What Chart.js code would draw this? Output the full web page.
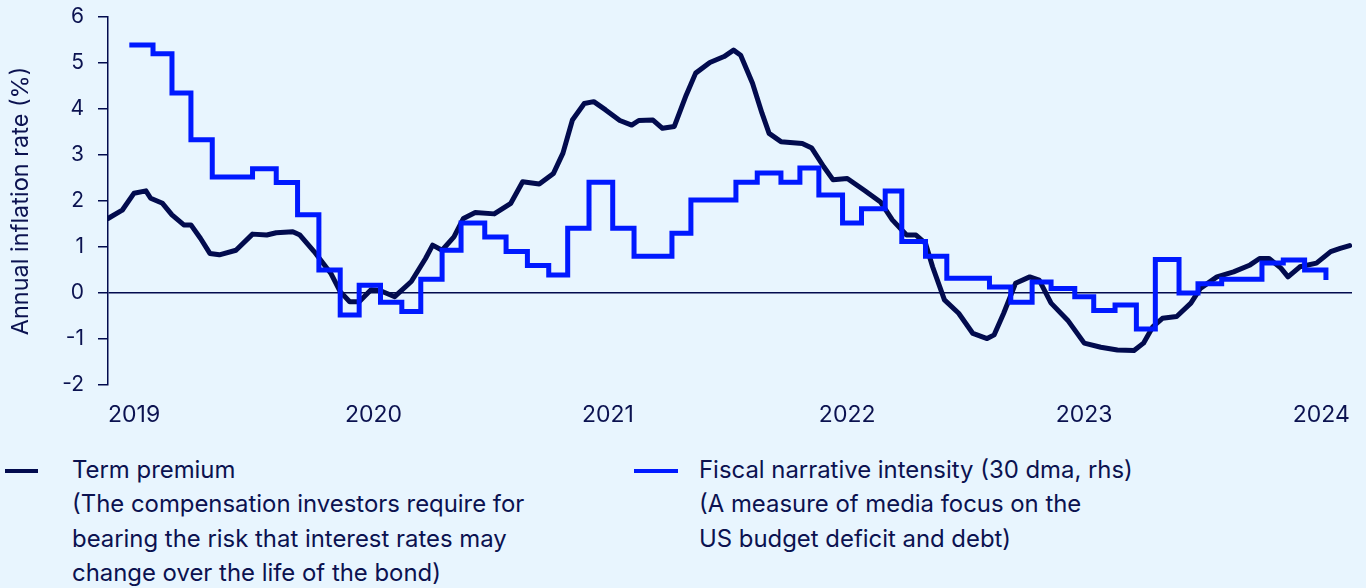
<!DOCTYPE html>
<html>
<head>
<meta charset="utf-8">
<script src="https://cdn.jsdelivr.net/npm/chart.js@4.4.1/dist/chart.umd.min.js"></script>
<style>
  html, body { margin: 0; padding: 0; background: #e8f5fe; }
  body { width: 1366px; height: 588px; position: relative; overflow: hidden; font-family: Inter, "Noto Sans", sans-serif; color: #0b1250; }
  #chart { position: absolute; left: 0; top: 0; }
  .legend { position: absolute; top: 453px; font-size: 23.9px; line-height: 34.4px; }
  .legend .swatch { position: absolute; top: 16px; height: 4px; }
  .legend .text { position: absolute; top: 0; white-space: nowrap; }
</style>
</head>
<body>
<canvas id="chart" width="1366" height="440"></canvas>

<div class="legend" style="left:0">
  <div class="swatch" style="left:5px; width:33px; background:#020b4e"></div>
  <div class="text" style="left:72px">Term premium<br>(The compensation investors require for<br>bearing the risk that interest rates may<br>change over the life of the bond)</div>
</div>
<div class="legend" style="left:0">
  <div class="swatch" style="left:634px; width:44px; background:#0019ff"></div>
  <div class="text" style="left:699px">Fiscal narrative intensity (30 dma, rhs)<br>(A measure of media focus on the<br>US budget deficit and debt)</div>
</div>

<script>
// x values are decimal years
var yearTicks = [2019, 2020, 2021, 2022, 2023, 2024];
var yTicks = [-2, -1, 0, 1, 2, 3, 4, 5, 6];

var termDates = [2019.00, 2019.06, 2019.11, 2019.16, 2019.18, 2019.23, 2019.27, 2019.32, 2019.35, 2019.39,
    2019.43, 2019.47, 2019.54, 2019.61, 2019.67, 2019.71, 2019.78, 2019.81, 2019.87, 2019.94,
    2019.98, 2020.02, 2020.06, 2020.11, 2020.15, 2020.21, 2020.28, 2020.34, 2020.37, 2020.41,
    2020.46, 2020.50, 2020.55, 2020.63, 2020.70, 2020.75, 2020.82, 2020.88, 2020.92, 2020.96,
    2021.01, 2021.05, 2021.10, 2021.16, 2021.21, 2021.24, 2021.30, 2021.34, 2021.39, 2021.44,
    2021.48, 2021.54, 2021.60, 2021.64, 2021.67, 2021.72, 2021.76, 2021.79, 2021.84, 2021.93,
    2021.97, 2022.02, 2022.06, 2022.12, 2022.19, 2022.26, 2022.31, 2022.37, 2022.41, 2022.45,
    2022.48, 2022.53, 2022.59, 2022.65, 2022.71, 2022.74, 2022.78, 2022.83, 2022.89, 2022.93,
    2022.98, 2023.05, 2023.12, 2023.19, 2023.26, 2023.33, 2023.37, 2023.41, 2023.45, 2023.51,
    2023.57, 2023.61, 2023.68, 2023.75, 2023.82, 2023.86, 2023.90, 2023.95, 2023.98, 2024.03,
    2024.10, 2024.16, 2024.20, 2024.24];
var termValues = [1.62, 1.80, 2.17, 2.22, 2.06, 1.95, 1.70, 1.48, 1.48, 1.19,
    0.86, 0.83, 0.93, 1.28, 1.26, 1.31, 1.33, 1.26, 0.90, 0.43,
    0.03, -0.19, -0.19, 0.07, 0.05, -0.08, 0.25, 0.75, 1.04, 0.93,
    1.22, 1.62, 1.75, 1.72, 1.95, 2.42, 2.37, 2.60, 3.04, 3.76,
    4.12, 4.16, 3.98, 3.75, 3.65, 3.75, 3.76, 3.58, 3.62, 4.30,
    4.78, 5.01, 5.14, 5.28, 5.17, 4.56, 3.91, 3.47, 3.29, 3.25,
    3.15, 2.75, 2.46, 2.49, 2.24, 1.98, 1.59, 1.26, 1.26, 1.08,
    0.57, -0.15, -0.44, -0.88, -0.99, -0.91, -0.44, 0.21, 0.35, 0.28,
    -0.22, -0.59, -1.09, -1.18, -1.24, -1.25, -1.09, -0.73, -0.55, -0.51,
    -0.22, 0.10, 0.35, 0.46, 0.61, 0.75, 0.75, 0.54, 0.35, 0.57,
    0.65, 0.90, 0.97, 1.03];

var fiscalDates = [2019.09, 2019.19, 2019.27, 2019.35, 2019.44, 2019.61, 2019.71, 2019.80, 2019.89, 2019.98,
    2020.06, 2020.15, 2020.24, 2020.32, 2020.41, 2020.49, 2020.59, 2020.68, 2020.77, 2020.86,
    2020.94, 2021.03, 2021.13, 2021.22, 2021.38, 2021.46, 2021.65, 2021.74, 2021.84, 2021.92,
    2022.00, 2022.10, 2022.18, 2022.28, 2022.35, 2022.45, 2022.54, 2022.72, 2022.81, 2022.90,
    2022.98, 2023.08, 2023.16, 2023.25, 2023.34, 2023.42, 2023.52, 2023.60, 2023.70, 2023.87,
    2023.96, 2024.05, 2024.14];
var fiscalValues = [5.39, 5.20, 4.35, 3.33, 2.52, 2.70, 2.40, 1.70, 0.50, -0.48,
    0.17, -0.20, -0.40, 0.30, 0.93, 1.52, 1.22, 0.90, 0.60, 0.39,
    1.41, 2.41, 1.41, 0.80, 1.30, 2.02, 2.41, 2.61, 2.41, 2.72,
    2.13, 1.52, 1.83, 2.22, 1.12, 0.80, 0.32, 0.13, -0.20, 0.24,
    0.10, -0.08, -0.38, -0.26, -0.78, 0.73, 0.00, 0.20, 0.30, 0.65,
    0.72, 0.50, 0.28];

var navy = '#020b4e';
var textColor = '#0b1250';
var blue = '#0019ff';

function toPoints(xs, ys) {
    return xs.map(function (x, i) { return {x: x, y: ys[i]}; });
}

Chart.defaults.font.family = 'Inter, "Noto Sans", sans-serif';
Chart.defaults.color = textColor;

new Chart(document.getElementById('chart'), {
    type: 'line',
    data: {
        datasets: [
            {
                label: 'Term premium',
                data: toPoints(termDates, termValues),
                borderColor: navy,
                borderWidth: 5,
                pointRadius: 0,
                tension: 0,
                borderJoinStyle: 'round',
                borderCapStyle: 'round',
                order: 2
            },
            {
                label: 'Fiscal narrative intensity (30 dma, rhs)',
                data: toPoints(fiscalDates, fiscalValues),
                borderColor: blue,
                borderWidth: 5,
                pointRadius: 0,
                stepped: true,
                borderJoinStyle: 'miter',
                order: 1
            }
        ]
    },
    options: {
        responsive: false,
        animation: false,
        layout: {padding: {left: 0, top: 17, right: 14, bottom: 0}},
        plugins: {
            legend: {display: false},
            tooltip: {enabled: false}
        },
        scales: {
            x: {
                type: 'linear',
                min: 2019,
                max: 2024.25,
                afterBuildTicks: function (scale) {
                    scale.ticks = yearTicks.map(function (v) { return {value: v}; });
                },
                afterFit: function (scale) {
                    scale.height = 55;
                    scale.paddingLeft = 0;
                    scale.paddingRight = 0;
                },
                grid: {display: false, drawTicks: false},
                border: {display: false},
                ticks: {
                    align: 'start',
                    padding: 16,
                    maxRotation: 0,
                    autoSkip: false,
                    font: {size: 23},
                    color: textColor,
                    callback: function (v) { return String(v); }
                }
            },
            y: {
                min: -2,
                max: 6,
                afterBuildTicks: function (scale) {
                    scale.ticks = yTicks.map(function (v) { return {value: v}; });
                },
                afterFit: function (scale) {
                    scale.width = 108;
                    scale.paddingTop = 0;
                    scale.paddingBottom = 0;
                },
                border: {display: true, color: navy, width: 1.5},
                grid: {
                    drawOnChartArea: true,
                    tickLength: 10,
                    tickColor: navy,
                    lineWidth: 1.5,
                    color: function (ctx) {
                        return ctx.tick && ctx.tick.value === 0 ? navy : 'rgba(0,0,0,0)';
                    }
                },
                ticks: {
                    padding: 14,
                    font: {size: 21},
                    color: textColor
                },
                title: {
                    display: true,
                    text: 'Annual inflation rate (%)',
                    font: {size: 23.5},
                    color: textColor,
                    padding: {top: 7, bottom: 0}
                }
            }
        }
    }
});
</script>
</body>
</html>
